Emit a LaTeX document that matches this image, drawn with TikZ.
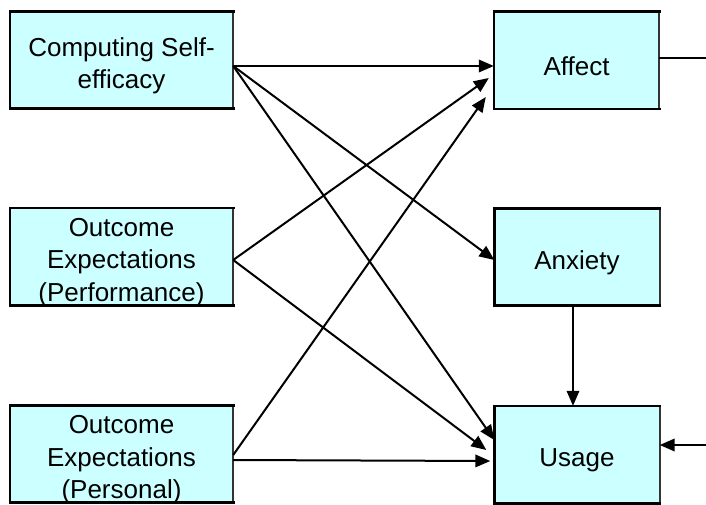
\documentclass[tikz,border=0pt]{standalone}
\usepackage{fontspec}
\setmainfont{Liberation Sans}
\usetikzlibrary{arrows.meta}
\definecolor{boxfill}{HTML}{CCFFFF}
\definecolor{edgegray}{HTML}{333333}
\begin{document}
\begin{tikzpicture}[x=1pt,y=-1pt,
  box/.style={fill=boxfill, inner sep=0pt},
  leftbox/.style={box, minimum width=223pt, minimum height=97pt},
  rightbox/.style={box, minimum width=165pt, minimum height=97pt},
  caption/.style={align=center, font=\fontsize{26}{32.5}\selectfont, yshift=-6pt},
  frame/.style={line width=2.6pt, line cap=rect, line join=miter},
  sideedge/.style={line width=1.6pt, draw=edgegray},
  link/.style={line width=2pt, -{Triangle[length=15pt,width=12.5pt]}},
  plain/.style={line width=2pt}]
\useasboundingbox (0,0) rectangle (706,505);

% predictors
\node[leftbox] (cse)  at (121.5,60)    {};
\node[leftbox] (oep)  at (121.5,256.5) {};
\node[leftbox] (oepe) at (121.5,454)   {};

% outcomes
\node[rightbox] (aff) at (576.5,60.5) {};
\node[rightbox] (anx) at (577,257)    {};
\node[rightbox] (use) at (577,454.5)  {};

% box frames: heavy on three sides, lighter on the right
\foreach \n in {cse,oep,oepe,aff,anx,use}{
  \draw[sideedge] (\n.north east) -- (\n.south east);
  \draw[frame] (\n.north east) -- (\n.north west) -- (\n.south west) -- (\n.south east);
}

% captions
\node[caption] at (cse.center)  {Computing Self-\\efficacy};
\node[caption] at (oep.center)  {Outcome\\Expectations\\(Performance)};
\node[caption] at (oepe.center) {Outcome\\Expectations\\(Personal)};
\node[caption] at (aff.center)  {Affect};
\node[caption] at (anx.center)  {Anxiety};
\node[caption] at (use.center)  {Usage};

% free ends leaving the frame
\coordinate (outA) at (706,58);
\coordinate (inU)  at (706,445);

% from computing self-efficacy
\draw[link] ([yshift=-6pt]cse.east) -- ([yshift=-5.5pt]aff.west);
\draw[link] ([yshift=-6pt]cse.east) -- ([yshift=-3pt]anx.west);
\draw[link] ([yshift=-6pt]cse.east) -- ([yshift=14.5pt]use.west);

% from performance expectations
\draw[link] ([yshift=-3.5pt]oep.east) -- ([xshift=-5pt,yshift=-17.5pt]aff.west);
\draw[link] ([yshift=-3.5pt]oep.east) -- ([xshift=-8pt,yshift=4.5pt]use.west);

% from personal expectations
\draw[link] ([yshift=-1pt]oepe.east) -- ([xshift=-8pt,yshift=-36.5pt]aff.west);
\draw[link] ([yshift=-6pt]oepe.east) -- ([xshift=-4pt,yshift=-6.5pt]use.west);

% anxiety to usage
\draw[link] ([xshift=-4pt]anx.south) -- ([xshift=-4pt]use.north);

% connections beyond the right edge
\draw[plain] ([yshift=2.5pt]aff.east) -- (outA);
\draw[link] (inU) -- ([yshift=9.5pt]use.east);
\end{tikzpicture}
\end{document}
